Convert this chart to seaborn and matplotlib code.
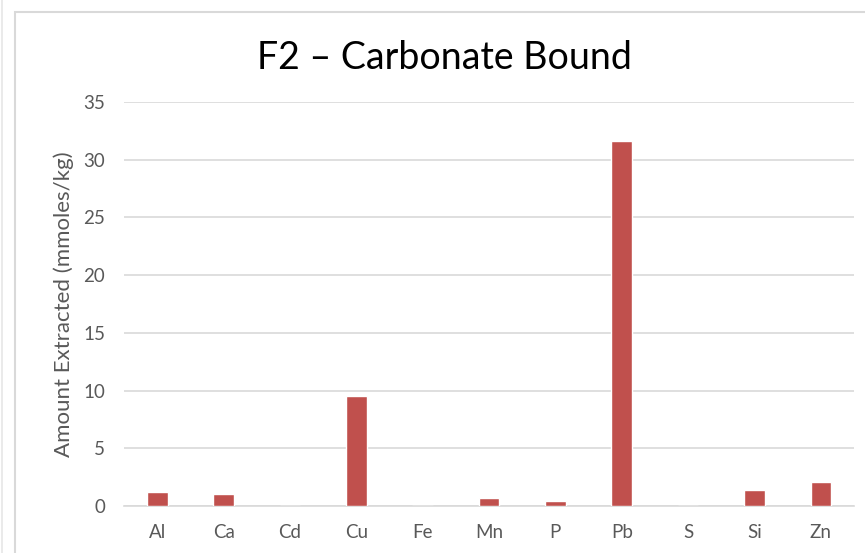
import matplotlib
matplotlib.use("Agg")
import matplotlib.pyplot as plt
from matplotlib.patches import Rectangle
from matplotlib.lines import Line2D
import seaborn as sns
import pandas as pd

elements = ["Al", "Ca", "Cd", "Cu", "Fe", "Mn", "P", "Pb", "S", "Si", "Zn"]
amounts = [1.2, 1.0, 0.0, 9.5, 0.0, 0.7, 0.4, 31.6, 0.0, 1.4, 2.1]
y_ticks = [0, 5, 10, 15, 20, 25, 30, 35]

title = "F2 \u2013 Carbonate Bound"
y_label = "Amount Extracted (mmoles/kg)"

bar_color = "#C0504D"
grid_color = "#D9D9D9"
text_color = "#595959"

sns.set_theme(style="white")
plt.rcParams["font.family"] = ["Lato", "DejaVu Sans"]

df = pd.DataFrame({"element": elements, "amount": amounts})

fig = plt.figure(figsize=(8.65, 5.53), dpi=100)
ax = fig.add_axes([0.1434, 0.085, 0.8439, 0.7306])

sns.barplot(data=df, x="element", y="amount", color=bar_color,
            saturation=1, width=0.31, ax=ax, zorder=3)

ax.set_ylim(0, 35)
ax.set_yticks(y_ticks)
ax.set_xlim(-0.5, len(elements) - 0.5)
ax.yaxis.grid(True, color=grid_color, linewidth=1.2, zorder=0)
ax.xaxis.grid(False)
for side in ["top", "right", "left"]:
    ax.spines[side].set_visible(False)
ax.spines["bottom"].set_color(grid_color)
ax.spines["bottom"].set_linewidth(1.2)
ax.tick_params(axis="both", length=0, labelsize=13.5, labelcolor=text_color)
ax.tick_params(axis="y", pad=13.5)
ax.tick_params(axis="x", pad=13)
ax.set_xlabel("")
ax.set_ylabel(y_label, fontsize=16, color=text_color, labelpad=7)

fig.text(0.514, 0.895, title, ha="center", va="center", fontsize=27, color="black")

# chart area frame
fig.patches.append(Rectangle((15 / 865, -0.05), 1.0, 1 - 12 / 553 + 0.05,
                             transform=fig.transFigure, fill=False,
                             edgecolor=grid_color, linewidth=1.5, zorder=0))
fig.lines.append(Line2D([1.5 / 865, 1.5 / 865], [0, 1], transform=fig.transFigure,
                        color="#E6E6E6", linewidth=1.2))

fig.savefig("out.png", dpi=100, facecolor="white")
